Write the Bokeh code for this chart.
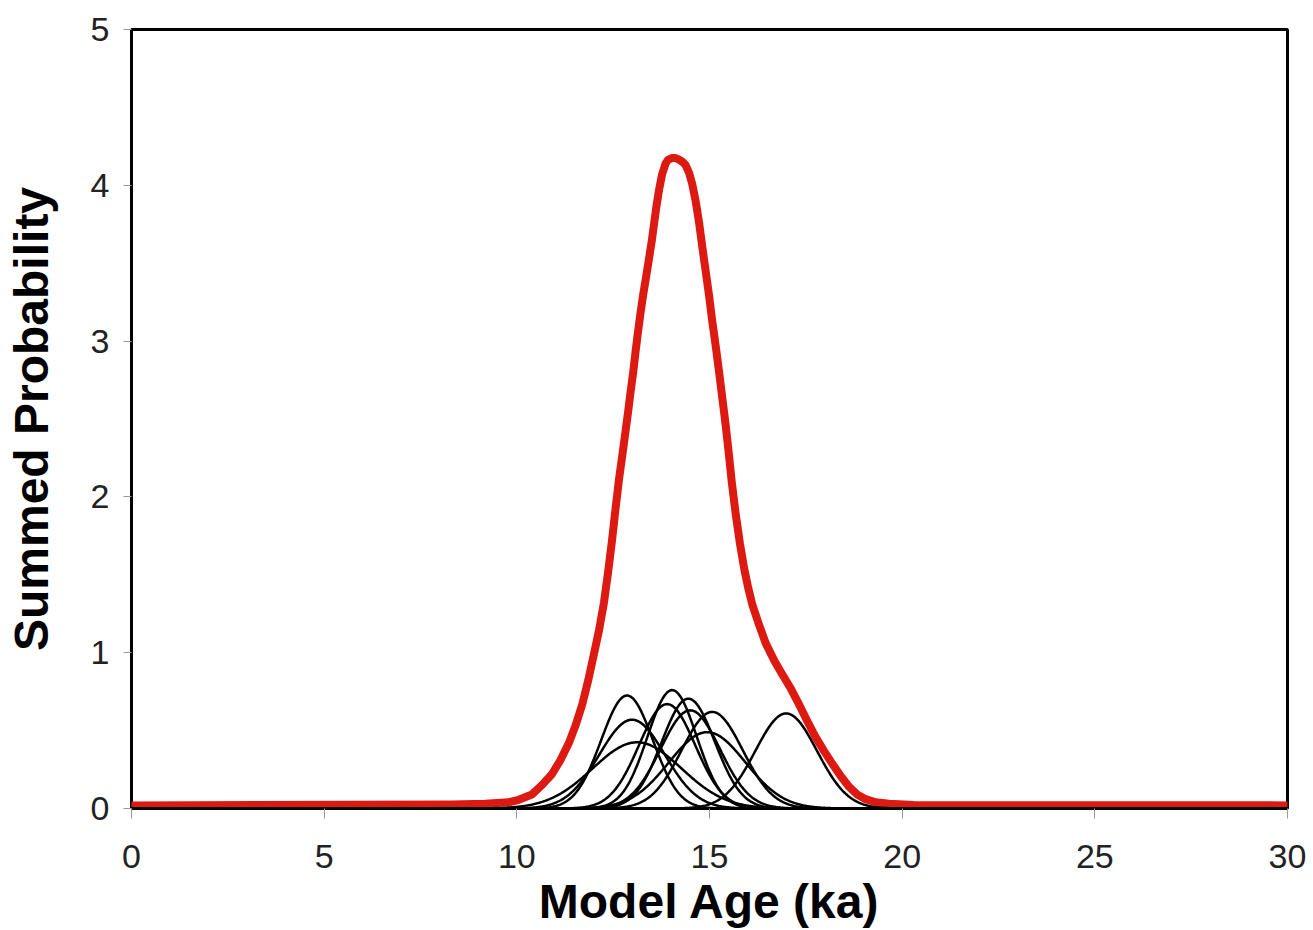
import numpy as np
from bokeh.plotting import figure
from bokeh.models import Range1d, FixedTicker
from bokeh.embed import file_html
from bokeh.resources import INLINE

# Individual sample model ages (ka), 1-sigma widths (ka) and peak heights
sample_ages = [12.86, 12.99, 13.12, 14.03, 13.90, 14.45, 14.50, 15.07, 14.94, 16.99]
sample_sigmas = [0.67, 0.85, 1.15, 0.64, 0.73, 0.69, 0.77, 0.79, 0.99, 0.80]
sample_peaks = [0.725, 0.57, 0.425, 0.76, 0.67, 0.705, 0.63, 0.62, 0.49, 0.61]

# Summed probability curve (red)
sum_x = [0, 8.31, 9.18, 9.79, 10.05, 10.39, 10.65, 10.91, 11.13, 11.35, 11.52, 11.70, 11.85,
         12.0, 12.13, 12.26, 12.37, 12.47, 12.56, 12.65, 12.75, 12.82, 12.89, 12.95, 13.02,
         13.08, 13.14, 13.21, 13.28, 13.36, 13.43, 13.50, 13.56, 13.62, 13.69, 13.77, 13.86,
         13.93, 14.03, 14.12, 14.21, 14.30, 14.38, 14.47, 14.55, 14.64, 14.73, 14.81, 14.90,
         14.99, 15.07, 15.16, 15.25, 15.33, 15.42, 15.50, 15.58, 15.68, 15.79, 15.90, 16.01,
         16.11, 16.27, 16.46, 16.68, 16.89, 17.11, 17.32, 17.54, 17.75, 17.97, 18.18, 18.40,
         18.62, 18.83, 19.05, 19.31, 19.66, 20.3, 30]
sum_y = [0.02, 0.025, 0.03, 0.04, 0.056, 0.09, 0.15, 0.22, 0.31, 0.42, 0.53, 0.67, 0.82,
         0.99, 1.14, 1.32, 1.52, 1.72, 1.92, 2.11, 2.29, 2.42, 2.55, 2.67, 2.80,
         2.93, 3.05, 3.18, 3.30, 3.42, 3.53, 3.64, 3.75, 3.86, 3.97, 4.07, 4.14,
         4.165, 4.175, 4.175, 4.165, 4.15, 4.13, 4.08, 4.01, 3.90, 3.76, 3.61, 3.45,
         3.29, 3.13, 2.97, 2.80, 2.64, 2.46, 2.28, 2.09, 1.89, 1.70, 1.54, 1.41,
         1.31, 1.19, 1.06, 0.95, 0.86, 0.77, 0.67, 0.56, 0.46, 0.37, 0.29, 0.21,
         0.14, 0.09, 0.06, 0.04, 0.03, 0.022, 0.02]

x_ticks = [0, 5, 10, 15, 20, 25, 30]
y_ticks = [0, 1, 2, 3, 4, 5]

p = figure(width=1313, height=930, output_backend="svg", toolbar_location=None,
           x_range=Range1d(0, 30), y_range=Range1d(0, 5))
p.min_border_left = 131
p.min_border_right = 26
p.min_border_top = 29
p.min_border_bottom = 122
p.background_fill_color = "white"
p.border_fill_color = "white"
p.outline_line_color = "black"
p.outline_line_width = 3
p.grid.visible = False

p.line(sum_x, sum_y, line_color="#dd1a12", line_width=8, line_join="round", line_cap="round")

grid = np.linspace(0, 30, 1201)
for mu, sd, pk in zip(sample_ages, sample_sigmas, sample_peaks):
    curve = pk * np.exp(-0.5 * ((grid - mu) / sd) ** 2)
    p.line(grid, curve, line_color="black", line_width=2.5)

for ax in (p.xaxis[0], p.yaxis[0]):
    ax.axis_line_color = None
    ax.major_tick_line_color = "#999999"
    ax.major_tick_line_width = 1
    ax.major_tick_in = 0
    ax.minor_tick_line_color = None
    ax.major_label_text_font = "Liberation Sans"
    ax.major_label_text_font_size = "34px"
    ax.major_label_text_color = "#222222"
    ax.axis_label_text_font = "Liberation Sans"
    ax.axis_label_text_font_style = "bold"
    ax.axis_label_text_font_size = "48px"
    ax.axis_label_text_color = "black"

p.xaxis.ticker = FixedTicker(ticks=x_ticks)
p.yaxis.ticker = FixedTicker(ticks=y_ticks)
p.xaxis.major_tick_out = 10
p.yaxis.major_tick_out = 8
p.xaxis.major_label_standoff = 26
p.yaxis.major_label_standoff = 14
p.xaxis.axis_label = "Model Age (ka)"
p.yaxis.axis_label = "Summed Probability"
p.xaxis.axis_label_standoff = 4
p.yaxis.axis_label_standoff = 30

open("out.html", "w").write(file_html(p, INLINE))
